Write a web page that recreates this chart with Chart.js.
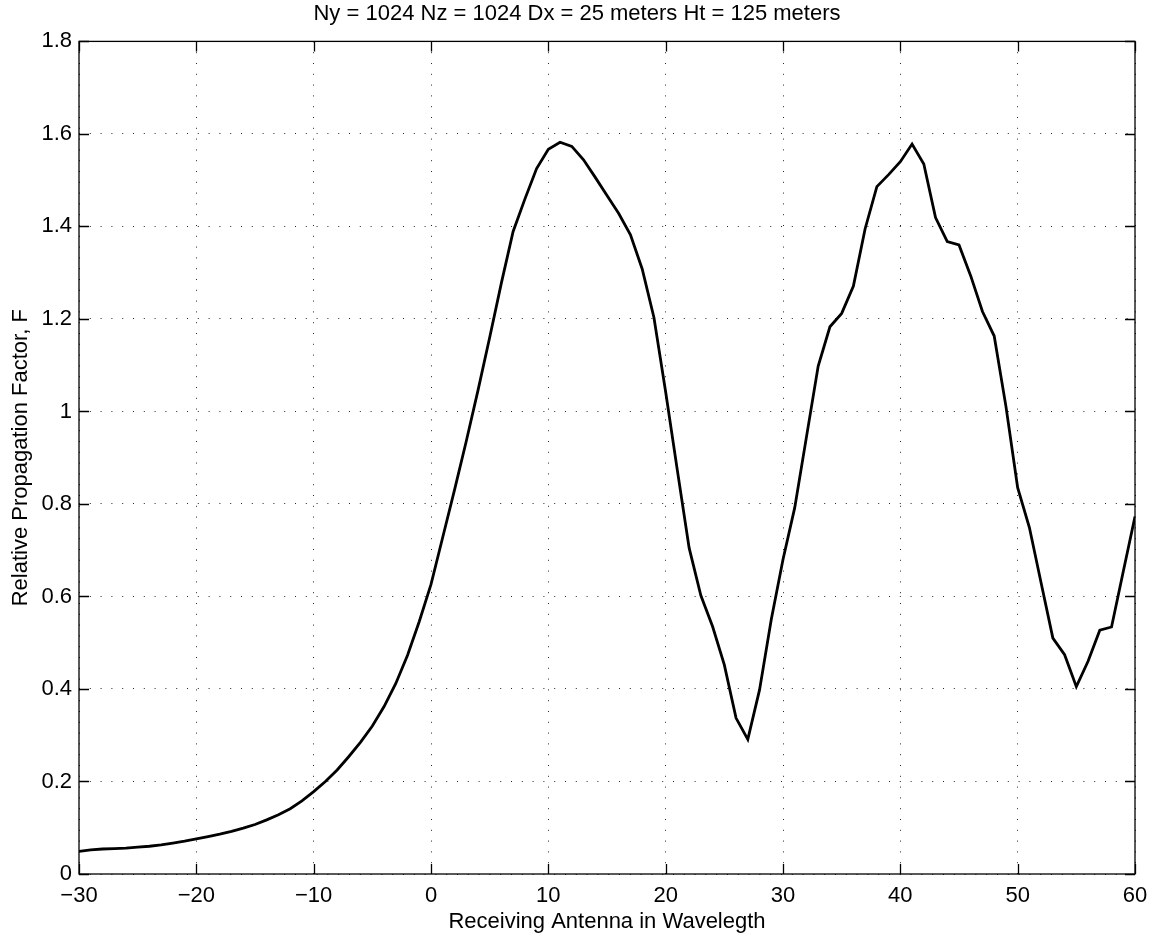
<!DOCTYPE html>
<html>
<head>
<meta charset="utf-8">
<script src="https://cdn.jsdelivr.net/npm/chart.js@4"></script>
<style>
  html, body { margin: 0; padding: 0; background: #fff; }
  #wrap { width: 1154px; height: 940px; }
</style>
</head>
<body>
<div id="wrap"><canvas id="chart" width="1154" height="940"></canvas></div>
<script>
const titleText = 'Ny = 1024 Nz = 1024 Dx = 25 meters Ht = 125 meters';
const xLabel = 'Receiving Antenna in Wavelegth';
const yLabel = 'Relative Propagation Factor, F';

// receiver position (wavelengths)
const xs = [-30,-29,-28,-27,-26,-25,-24,-23,-22,-21,-20,-19,-18,-17,-16,-15,-14,-13,-12,-11,
  -10,-9,-8,-7,-6,-5,-4,-3,-2,-1,0,1,2,3,4,5,6,7,8,9,
  10,11,12,13,14,15,16,17,18,19,20,21,22,23,24,25,26,27,28,29,
  30,31,32,33,34,35,36,37,38,39,40,41,42,43,44,45,46,47,48,49,
  50,51,52,53,54,55,56,57,58,59,60];
// relative propagation factor F
const ys = [0.049,0.052,0.054,0.055,0.056,0.058,0.060,0.063,0.067,0.071,0.076,0.081,0.086,0.092,0.099,0.107,0.117,0.128,0.141,0.158,
  0.178,0.200,0.225,0.254,0.285,0.320,0.362,0.412,0.473,0.546,0.626,0.728,0.830,0.935,1.045,1.160,1.278,1.389,1.459,1.525,
  1.567,1.582,1.573,1.544,1.506,1.467,1.428,1.382,1.308,1.203,1.042,0.872,0.705,0.602,0.535,0.452,0.337,0.291,0.398,0.550,
  0.680,0.792,0.945,1.098,1.183,1.212,1.271,1.395,1.486,1.512,1.540,1.578,1.535,1.419,1.367,1.360,1.293,1.216,1.163,1.011,
  0.835,0.749,0.629,0.510,0.474,0.405,0.460,0.527,0.534,0.654,0.773];

const xTicks = [-30,-20,-10,0,10,20,30,40,50,60];
const yTicks = [0,0.2,0.4,0.6,0.8,1,1.2,1.4,1.6,1.8];
const yTickLabels = ['0','0.2','0.4','0.6','0.8','1','1.2','1.4','1.6','1.8'];

const FONT = "'Liberation Sans', Arial, Helvetica, sans-serif";

// matlab style box + inward ticks on all four sides
const boxPlugin = {
  id: 'box',
  afterLayout(chart){
    // centre the title on the whole figure, not just the padded area
    if (chart.titleBlock) { chart.titleBlock.left = 0; chart.titleBlock.right = chart.width; }
  },
  afterDraw(chart){
    const {ctx, chartArea:a, scales:{x, y}} = chart;
    const L = 10;
    ctx.save();
    ctx.strokeStyle = '#000';
    ctx.lineWidth = 1.3;
    ctx.beginPath();
    xTicks.forEach(v=>{
      const px = Math.round(x.getPixelForValue(v))+0.5;
      ctx.moveTo(px, a.bottom); ctx.lineTo(px, a.bottom-L);
      ctx.moveTo(px, a.top); ctx.lineTo(px, a.top+L);
    });
    yTicks.forEach(v=>{
      const py = Math.round(y.getPixelForValue(v))+0.5;
      ctx.moveTo(a.left, py); ctx.lineTo(a.left+L, py);
      ctx.moveTo(a.right, py); ctx.lineTo(a.right-L, py);
    });
    ctx.stroke();
    ctx.strokeRect(a.left, a.top, a.right-a.left, a.bottom-a.top);
    ctx.restore();
  }
};

new Chart(document.getElementById('chart'), {
  type: 'line',
  data: {
    datasets: [{
      data: xs.map((v,i)=>({x:v, y:ys[i]})),
      borderColor: '#000',
      borderWidth: 2.8,
      pointRadius: 0,
      tension: 0,
      fill: false
    }]
  },
  options: {
    responsive: false,
    animation: false,
    devicePixelRatio: 1,
    layout: { padding: { left: 0, right: 19, top: 0, bottom: 0 } },
    plugins: {
      legend: { display: false },
      tooltip: { enabled: false },
      title: {
        display: true,
        text: titleText,
        color: '#000',
        font: { family: FONT, size: 22, weight: 'normal' },
        padding: { top: 1, bottom: 14 }
      }
    },
    scales: {
      x: {
        type: 'linear',
        min: -30, max: 60,
        afterBuildTicks: s => { s.ticks = xTicks.map(v=>({value:v})); },
        afterFit: s => { s.height = 66; s.paddingLeft = 0; s.paddingRight = 0; },
        ticks: {
          color: '#000',
          font: { family: FONT, size: 22 },
          padding: 9,
          maxRotation: 0,
          callback: v => String(v).replace('-', '\u2212')
        },
        grid: { color: 'rgba(0,0,0,0.85)', lineWidth: 1, drawTicks: false, tickLength: 0 },
        border: { display: false, dash: [1, 9.8] },
        title: {
          display: true, text: xLabel, color: '#000',
          font: { family: FONT, size: 22 },
          padding: { top: 0, bottom: 5 }
        }
      },
      y: {
        type: 'linear',
        min: 0, max: 1.8,
        afterBuildTicks: s => { s.ticks = yTicks.map(v=>({value:v})); },
        afterFit: s => { s.width = 79; s.paddingTop = 0; s.paddingBottom = 0; },
        ticks: {
          color: '#000',
          font: { family: FONT, size: 22 },
          padding: 7,
          callback: (v, i) => yTickLabels[i]
        },
        grid: { color: 'rgba(0,0,0,0.85)', lineWidth: 1, drawTicks: false, tickLength: 0 },
        border: { display: false, dash: [1, 9.8] },
        title: {
          display: true, text: yLabel, color: '#000',
          font: { family: FONT, size: 22 },
          padding: { top: 8, bottom: 0 }
        }
      }
    }
  },
  plugins: [boxPlugin]
});
</script>
</body>
</html>
